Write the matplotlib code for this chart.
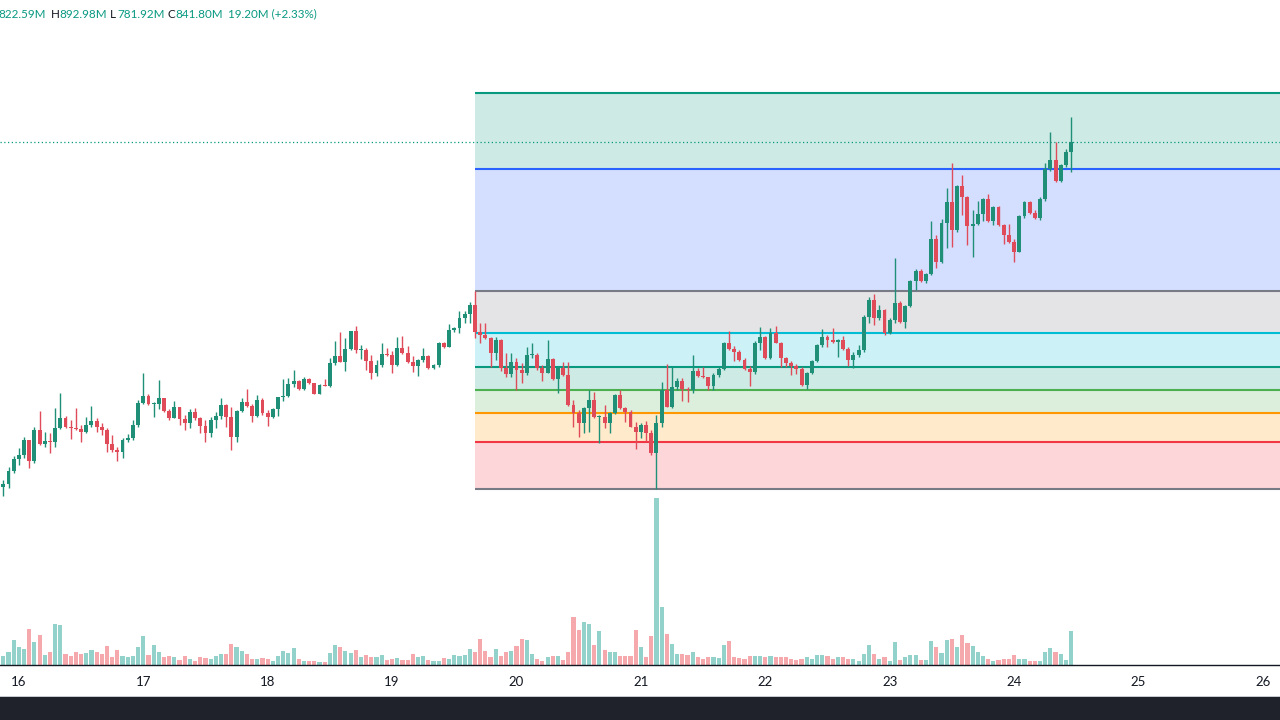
import numpy as np
import matplotlib
matplotlib.use("Agg")
import matplotlib.pyplot as plt
from matplotlib.patches import Rectangle

# hourly candles, first one at 15th 21:00 (hour -3 counted from the 16th 00:00)
first_hour = -3
first_open = 152

closes = [158, 184, 208, 216, 246, 204, 266, 238, 244, 242,
          270, 290, 272, 270, 268, 262, 276, 284, 272, 266,
          238, 226, 222, 246, 250, 276, 320, 334, 318, 318,
          330, 304, 290, 312, 288, 280, 302, 290, 274, 260,
          286, 294, 316, 292, 252, 304, 322, 314, 294, 326,
          300, 292, 308, 332, 334, 358, 364, 348, 368, 360,
          338, 356, 354, 400, 414, 402, 428, 464, 426, 426,
          404, 380, 396, 418, 416, 396, 430, 420, 402, 394,
          406, 414, 390, 396, 440, 432, 466, 470, 490, 498,
          516, 462, 456, 450, 420, 446, 390, 378, 402, 386,
          380, 416, 416, 390, 380, 408, 368, 390, 376, 316,
          300, 280, 310, 326, 292, 292, 280, 300, 336, 310,
          302, 272, 262, 276, 260, 220, 280, 346, 312, 352,
          364, 348, 346, 384, 374, 372, 354, 376, 388, 440,
          428, 422, 406, 388, 382, 440, 452, 410, 460, 440,
          410, 400, 394, 388, 356, 380, 404, 436, 452, 446,
          442, 446, 428, 406, 416, 426, 492, 526, 490, 506,
          460, 486, 520, 482, 514, 564, 584, 564, 578, 648,
          602, 680, 722, 666, 754, 732, 674, 678, 698, 728,
          684, 712, 676, 656, 642, 622, 694, 722, 700, 690,
          728, 788, 806, 764, 796, 822.59, 841.80]

highs = [166, 192, 214, 230, 252, 246, 272, 304, 262, 260,
         310, 340, 294, 286, 310, 276, 292, 314, 290, 280,
         270, 256, 232, 250, 258, 286, 326, 380, 338, 322,
         366, 330, 308, 324, 312, 296, 308, 310, 292, 286,
         292, 302, 330, 318, 312, 306, 330, 348, 318, 336,
         330, 306, 310, 332, 368, 370, 386, 366, 372, 370,
         360, 358, 368, 410, 444, 462, 450, 464, 474, 436,
         430, 416, 406, 440, 430, 424, 452, 454, 434, 414,
         408, 430, 416, 398, 442, 442, 478, 472, 504, 504,
         522, 544, 480, 480, 452, 452, 448, 420, 420, 410,
         400, 432, 440, 420, 396, 446, 410, 392, 402, 402,
         326, 306, 312, 346, 342, 296, 316, 302, 338, 346,
         312, 306, 282, 280, 284, 266, 296, 362, 398, 392,
         370, 370, 352, 416, 390, 392, 372, 380, 392, 442,
         464, 434, 426, 410, 394, 444, 472, 454, 470, 474,
         442, 412, 404, 398, 392, 382, 406, 438, 468, 456,
         470, 448, 454, 432, 422, 436, 496, 532, 538, 516,
         508, 490, 610, 524, 516, 566, 588, 588, 580, 684,
         656, 688, 750, 800, 756, 776, 734, 706, 724, 730,
         738, 714, 714, 678, 678, 648, 696, 724, 724, 706,
         732, 800, 862, 842, 798, 828, 892.98]

lows = [134, 150, 180, 196, 210, 190, 200, 236, 232, 220,
        232, 268, 270, 248, 266, 242, 260, 272, 262, 256,
        222, 222, 204, 210, 242, 246, 272, 318, 316, 292,
        308, 302, 286, 290, 276, 266, 270, 286, 260, 242,
        252, 270, 288, 272, 226, 242, 302, 312, 282, 292,
        296, 274, 290, 294, 324, 332, 352, 346, 346, 358,
        338, 338, 354, 352, 396, 402, 384, 426, 420, 408,
        386, 368, 374, 392, 414, 380, 394, 418, 400, 382,
        374, 402, 388, 388, 392, 430, 432, 462, 460, 480,
        480, 450, 440, 448, 392, 406, 384, 372, 372, 346,
        360, 376, 410, 386, 364, 380, 366, 340, 374, 314,
        272, 252, 260, 262, 290, 240, 270, 260, 298, 308,
        282, 272, 228, 250, 244, 216, 148, 272, 312, 310,
        346, 324, 322, 340, 372, 370, 346, 346, 372, 386,
        426, 404, 404, 386, 354, 378, 426, 408, 408, 440,
        392, 392, 376, 378, 354, 348, 378, 402, 432, 432,
        440, 412, 426, 394, 390, 412, 422, 480, 476, 486,
        456, 458, 480, 480, 470, 512, 546, 562, 560, 576,
        590, 600, 630, 632, 662, 696, 636, 612, 676, 684,
        682, 676, 674, 638, 640, 602, 622, 690, 698, 688,
        686, 724, 784, 762, 762, 792, 781.92]

volumes = [8.7, 12.7, 24.7, 18, 16.3, 36.3, 22.7, 30.3, 10.3, 12.7,
           41.3, 40.3, 11.3, 8.7, 13, 11, 12, 15.3, 13, 11,
           19.3, 7.7, 15.3, 9.3, 8, 9.3, 17.7, 29.3, 10.3, 19.7,
           12.7, 8, 9.3, 7.7, 5.3, 9.3, 6.3, 4.3, 8, 7,
           6, 9.3, 11.3, 11.3, 21.3, 18, 14.3, 11, 6, 6,
           7, 6, 4.3, 9.3, 14.3, 12, 17, 6, 4.3, 3.7,
           4.3, 3.3, 3.3, 12, 20.3, 18, 14.3, 12, 15.3, 8,
           10.3, 7.7, 7.7, 10.3, 5.3, 6.3, 7, 5.3, 5.3, 11.3,
           7.7, 9.3, 5.3, 4.3, 4.3, 7, 6.3, 10.3, 9.3, 10.3,
           16.3, 12.7, 26.3, 13.7, 7.7, 16.3, 8.7, 12.7, 14.3, 18.7,
           26.3, 25.3, 11.3, 6, 4.3, 7.7, 9.3, 9.3, 4.7, 12.7,
           47.7, 35.3, 43.3, 41.3, 19.7, 33.7, 14.7, 12.7, 12.7, 8.7,
           9.3, 9.3, 35, 17.7, 7.7, 28.7, 167, 57.7, 30.7, 21.3,
           11.3, 11.3, 10.3, 13, 8, 6, 8, 8, 7, 20,
           24.3, 8, 7, 6.3, 9.3, 9.3, 9.3, 7.7, 9.3, 7.7,
           7.7, 7.7, 6, 5.3, 6.3, 7.7, 6.3, 10.3, 10.3, 9.3,
           6.3, 7.7, 8, 6.3, 6.3, 4.3, 11.3, 20.3, 11.3, 6.3,
           7.7, 4.3, 22.7, 5.3, 7.7, 10.3, 10.3, 5.3, 5.3, 23.7,
           17.7, 12, 25.3, 26.3, 17.7, 29.7, 22, 19.3, 12.7, 9.3,
           6, 3.7, 5.3, 6, 6, 10.3, 6.3, 6.3, 3.7, 3.7,
           4.3, 13, 17, 12.7, 11.3, 5.3, 34.3]

day_labels = ["16", "17", "18", "19", "20", "21", "22", "23", "24", "25", "26"]

# fibonacci drawn from the swing high candle to the swing low candle
fib_high_idx = 91
fib_low_idx = 126
fib_ratios = [0, 0.236, 0.382, 0.5, 0.618, 0.786, 1, 1.618, 2]
fib_colors = ["#787b86", "#f23645", "#ff9800", "#4caf50", "#089981",
              "#00bcd4", "#787b86", "#2962ff", "#089981"]

# legend row (the "O" label is scrolled off the left edge in the original)
header_parts = [("822.59M", "#089981", -2),
                ("H", "#131722", 51), ("892.98M", "#089981", 59),
                ("L", "#131722", 110), ("781.92M", "#089981", 117),
                ("C", "#131722", 167), ("841.80M", "#089981", 175),
                ("19.20M (+2.33%)", "#089981", 228)]

up_col = "#1f8f77"
down_col = "#e04b5a"
vol_up = "#92d2cb"
vol_down = "#f5a9ad"

plt.rcParams["font.family"] = ["Lato", "DejaVu Sans"]

hours = first_hour + np.arange(len(closes))
closes = np.array(closes, dtype=float)
highs = np.array(highs, dtype=float)
lows = np.array(lows, dtype=float)
opens = np.concatenate([[first_open], closes[:-1]])
rising = closes >= opens
cand_col = np.where(rising, up_col, down_col)
vol_col = np.where(rising, vol_up, vol_down)

W, H = 1280, 720
fig = plt.figure(figsize=(12.8, 7.2), dpi=100)
fig.patch.set_facecolor("white")

rect = [0, 55 / H, 1, 665 / H]
ax_vol = fig.add_axes(rect)
ax = fig.add_axes(rect, sharex=ax_vol)
ax.patch.set_alpha(0)

x_left, x_right = -3.64, 243.3

# volume in the bottom of the pane
ax_vol.bar(hours, volumes, width=0.8, color=vol_col, linewidth=0)
ax_vol.set_ylim(0, 665)
ax_vol.axis("off")

# fibonacci levels
fib_low = lows[fib_low_idx]
fib_high = highs[fib_high_idx]
levels = [fib_low + r * (fib_high - fib_low) for r in fib_ratios]
fib_start = hours[fib_high_idx]
for i in range(1, len(levels)):
    ax.fill_between([fib_start, x_right], levels[i - 1], levels[i],
                    color=fib_colors[i], alpha=0.2, linewidth=0, zorder=1)
for lvl, c in zip(levels, fib_colors):
    ax.hlines(lvl, fib_start, x_right, colors=c, linewidth=1.5, zorder=2)

# last price line
ax.axhline(closes[-1], color="#089981", linestyle=(0, (1, 2)), linewidth=0.9, zorder=2)

# candles
ax.vlines(hours, lows, highs, colors=cand_col, linewidth=1, zorder=3)
body_low = np.minimum(opens, closes)
body_h = np.maximum(np.abs(closes - opens), 2)
ax.bar(hours, body_h, bottom=body_low, width=0.75, color=cand_col, linewidth=0, zorder=4)

ax.set_xlim(x_left, x_right)
ax.set_ylim(-204, 1126)
ax.set_yticks([])
ax.set_xticks(np.arange(len(day_labels)) * 24)
ax.set_xticklabels(day_labels)
ax.tick_params(axis="x", length=0, pad=8, labelsize=9.5, labelcolor="#131722")
for side in ["top", "left", "right"]:
    ax.spines[side].set_visible(False)
ax.spines["bottom"].set_color("#131722")
ax.spines["bottom"].set_linewidth(1)

# legend line at the top
for txt, col, px in header_parts:
    fig.text(px / W, 1 - 14 / H, txt, color=col, fontsize=8.4, va="center", ha="left")

# dark status bar at the bottom
fig.add_artist(Rectangle((0, 0), 1, 23 / H, transform=fig.transFigure,
                         facecolor="#1f222b", edgecolor="none"))
fig.add_artist(Rectangle((0, 23 / H), 1, 1.5 / H, transform=fig.transFigure,
                         facecolor="#c8cad0", edgecolor="none"))

fig.savefig("out.png", dpi=100)
